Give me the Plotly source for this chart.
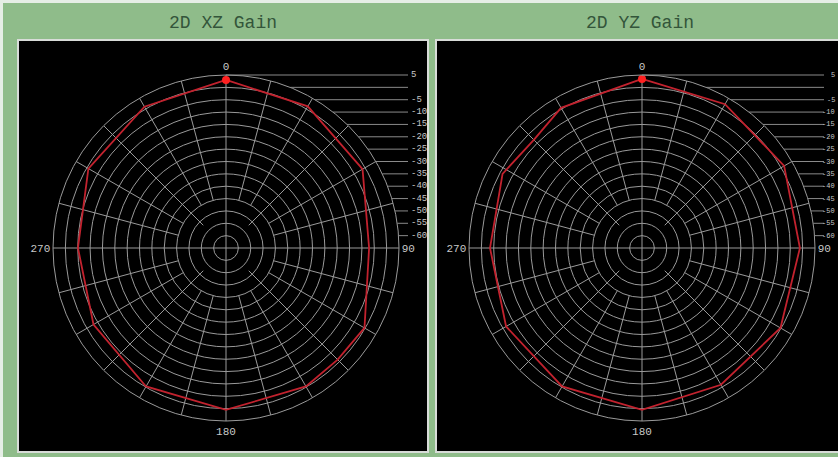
import math
import plotly.graph_objects as go

# ---------------- data ----------------
panel_titles = ["2D XZ Gain", "2D YZ Gain"]

angles_xz = [0, 30, 60, 90, 120, 135, 150, 180, 210, 240, 270, 300, 330]
gain_xz = [3.0, 1.2, -1.2, -7.1, -0.3, -1.1, -0.3, 0.5, -0.3, -3.1, -5.1, -0.7, 1.0]

angles_yz = [0, 30, 60, 90, 120, 150, 180, 210, 240, 270, 298, 315, 330]
gain_yz = [3.4, 2.2, 1.4, -1.1, -0.3, -1.1, 0.5, -0.3, -1.5, -3.5, -1.1, -3.1, 0.5]

angle_ticks = list(range(0, 360, 15))
angle_labels = {0: "0", 90: "90", 180: "180", 270: "270"}

radial_range = [-65, 5]
ring_vals = [5, 0, -5, -10, -15, -20, -25, -30, -35, -40, -45, -50, -55, -60]
ring_labels = ["5", "", "-5", "-10", "-15", "-20", "-25", "-30", "-35", "-40",
               "-45", "-50", "-55", "-60"]

# ---------------- layout geometry (pixels) ----------------
W, H = 838, 457
R = 173
centers = [(226, 248), (642, 248)]
panels = [(18, 40, 428, 452), (436, 40, 842, 452)]
title_x = [223, 640]

GREEN = "#8fbc8a"
GRID = "#9a9a9a"
RED = "#c2222e"
LABEL = "#c8c8c8"


def px(x):
    return x / W


def py(y):
    return 1 - y / H


def spoke_start(a):
    # inner radius (in dB) where each angular grid spoke begins
    if a % 90 == 0:
        return radial_range[0]
    if a % 45 == 0:
        return -52
    return -45


fig = go.Figure()
shapes = []
annotations = []

# light strips at top/left edge
shapes.append(dict(type="rect", xref="paper", yref="paper", x0=0, x1=1,
                   y0=py(3), y1=1, fillcolor="#e6eee6", line=dict(width=0),
                   layer="below"))
shapes.append(dict(type="rect", xref="paper", yref="paper", x0=0, x1=px(3),
                   y0=0, y1=1, fillcolor="#e6eee6", line=dict(width=0),
                   layer="below"))

datasets = [(angles_xz, gain_xz), (angles_yz, gain_yz)]

for i, ((cx, cy), (ang, gain)) in enumerate(zip(centers, datasets)):
    pname = "polar" if i == 0 else "polar2"

    # angular grid spokes
    sr, st = [], []
    for a in angle_ticks:
        sr += [spoke_start(a), radial_range[1], None]
        st += [a, a, None]
    fig.add_trace(go.Scatterpolar(
        r=sr, theta=st, mode="lines", line=dict(color=GRID, width=1),
        subplot=pname, showlegend=False, hoverinfo="skip", connectgaps=False))

    fig.add_trace(go.Scatterpolar(
        r=gain + [gain[0]], theta=ang + [ang[0]], mode="lines",
        line=dict(color=RED, width=1.8), subplot=pname, showlegend=False,
        hoverinfo="skip"))
    fig.add_trace(go.Scatterpolar(
        r=[gain[0]], theta=[ang[0]], mode="markers",
        marker=dict(color="#ff2020", size=8), subplot=pname, showlegend=False,
        hoverinfo="skip"))

    polar_cfg = dict(
        domain=dict(x=[px(cx - R), px(cx + R)], y=[py(cy + R), py(cy - R)]),
        bgcolor="black",
        angularaxis=dict(
            rotation=90, direction="clockwise",
            tickmode="array", tickvals=angle_ticks,
            ticktext=[angle_labels.get(a, "") for a in angle_ticks],
            showgrid=False,
            showline=True, linecolor=GRID, linewidth=1,
            ticks="", tickfont=dict(family="Liberation Mono", size=11, color=LABEL),
        ),
        radialaxis=dict(
            range=radial_range, tickmode="array", tickvals=ring_vals,
            showticklabels=False, ticks="", showline=False,
            showgrid=True, gridcolor=GRID, gridwidth=1,
        ),
    )
    fig.update_layout(**{pname: polar_cfg})

    # black panel
    x0, y0, x1, y1 = panels[i]
    shapes.append(dict(type="rect", xref="paper", yref="paper",
                       x0=px(x0), x1=px(x1), y0=py(y1), y1=py(y0),
                       fillcolor="black", line=dict(color="#d8dcd8", width=2),
                       layer="below"))

    # title
    annotations.append(dict(x=px(title_x[i]), y=py(23), xref="paper", yref="paper",
                            text=panel_titles[i], showarrow=False,
                            font=dict(family="Liberation Mono", size=18, color="#33553a"),
                            xanchor="center", yanchor="middle"))

    # radial labels with leader lines
    if i == 0:
        xe, lab_x, anchor, fsize = cx + 182, cx + 183, "left", 9
    else:
        xe, lab_x, anchor, fsize = W - 14, W - 1, "right", 7
    for v, lab in zip(ring_vals, ring_labels):
        rp = (v - radial_range[0]) / (radial_range[1] - radial_range[0]) * R
        yy = cy - rp
        xs = cx + math.sqrt(max(R * R - rp * rp, 0))
        shapes.append(dict(type="line", xref="paper", yref="paper",
                           x0=px(xs), x1=px(xe), y0=py(yy), y1=py(yy),
                           line=dict(color="#8a8a8a", width=1)))
        if lab:
            annotations.append(dict(x=px(lab_x), y=py(yy), xref="paper", yref="paper",
                                    text=lab, showarrow=False, xanchor=anchor,
                                    yanchor="middle",
                                    font=dict(family="Liberation Mono", size=fsize,
                                              color=LABEL)))

fig.update_layout(
    width=W, height=H, autosize=False,
    margin=dict(l=0, r=0, t=0, b=0),
    paper_bgcolor=GREEN, plot_bgcolor=GREEN,
    shapes=shapes, annotations=annotations, showlegend=False,
)

fig.write_html("out.html", config={"displayModeBar": False},
               post_script="document.body.style.margin='0';document.body.style.overflow='hidden';")
